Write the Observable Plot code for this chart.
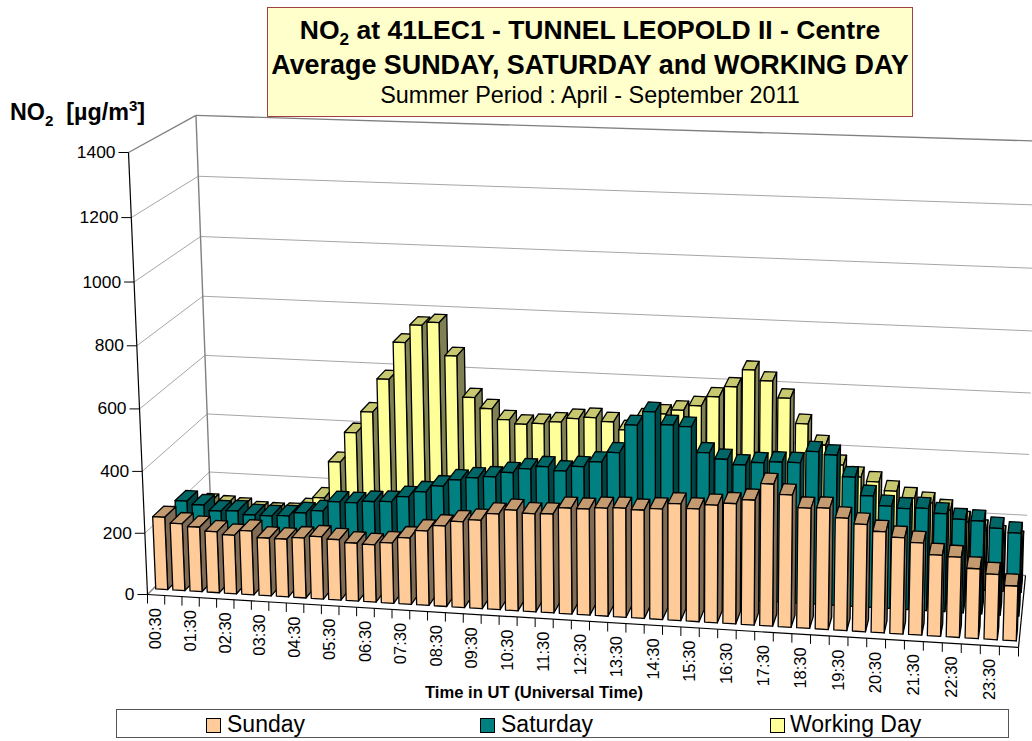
<!DOCTYPE html>
<html><head><meta charset="utf-8">
<script src="https://cdn.jsdelivr.net/npm/d3@7"></script>
<script src="https://cdn.jsdelivr.net/npm/@observablehq/plot@0.6"></script>
<style>
html,body{margin:0;padding:0;background:#fff;overflow:hidden;width:1032px;height:741px;font-family:"Liberation Sans",Arial,sans-serif;color:#000}
#chart{position:absolute;left:0;top:0}
#title{position:absolute;left:267px;top:7px;width:646px;height:110px;box-sizing:border-box;background:#ffffcc;border:1px solid #a04040;text-align:center;white-space:nowrap}
#title div{position:absolute;left:0;right:0}
#t1{font-weight:bold;font-size:26.5px;line-height:30px;top:7px}
#t2{font-weight:bold;font-size:26.9px;line-height:30px;top:42px}
#t3{top:74px;font-size:23.4px;line-height:26px}
sub,sup{font-size:65%;line-height:0}
#ylab{position:absolute;left:10px;top:99px;font-weight:bold;font-size:23.3px;white-space:pre}
#xlab{position:absolute;left:334px;width:400px;text-align:center;top:683px;font-weight:bold;font-size:16.6px}
#legend{position:absolute;left:116px;top:709px;width:893px;height:29px;box-sizing:border-box;border:1px solid #555;background:#fff}
.sw{position:absolute;top:8px;width:13px;height:13px;border:1px solid #000}
.lt{position:absolute;top:0;font-size:23px;line-height:29px}
</style></head><body>
<div id="chart"></div>
<div id="title"><div id="t1">NO<sub>2</sub> at 41LEC1 - TUNNEL LEOPOLD II - Centre</div><div id="t2">Average SUNDAY, SATURDAY and WORKING DAY</div><div id="t3">Summer Period : April - September 2011</div></div>
<div id="ylab">NO<sub>2</sub>  [µg/m<sup>3</sup>]</div>
<div id="xlab">Time in UT (Universal Time)</div>
<div id="legend"></div>
<script>
const tickLabels = ["00:30","01:30","02:30","03:30","04:30","05:30","06:30","07:30","08:30","09:30","10:30","11:30","12:30","13:30","14:30","15:30","16:30","17:30","18:30","19:30","20:30","21:30","22:30","23:30"];
const yTicks = [0,200,400,600,800,1000,1200,1400];
const sunday = [237,219,211,199,191,208,188,188,195,202,196,188,186,195,214,240,259,276,284,307,322,314,316,338,338,344,347,344,351,370,357,372,380,394,447,416,378,381,353,337,317,302,289,254,251,218,204,171];
const saturday = [221,211,194,197,187,187,190,203,213,246,246,253,256,275,294,316,339,349,355,372,387,397,386,403,421,454,545,590,551,548,468,450,435,445,450,451,489,481,414,357,328,323,327,313,298,296,276,264];
const workingDay = [143,139,135,125,124,126,145,185,309,410,482,593,717,776,787,680,546,512,478,466,471,479,493,499,488,464,506,522,537,554,586,621,678,645,592,512,446,384,348,335,308,289,276,255,220,195,180,165];
const seriesNames = ["Sunday","Saturday","Working Day"];
const palette = {
  "Sunday":{front:"#ffcc99",top:"#c49a70",side:"#806b55"},
  "Saturday":{front:"#008080",top:"#006666",side:"#004545"},
  "Working Day":{front:"#ffff99",top:"#c8c870",side:"#808055"}
};
const maxValue = 1400, nCat = 48;
// perspective view of the unit box (time, depth, value)
const view = {O:[147,594],U:[1018,647],UV:[1025,575],V:[211,529],W:[128,152],k:-0.035};
const [x0,y0]=view.O,[x1,y1]=view.U,[x2,y2]=view.UV,[x3,y3]=view.V;
const sx=x0-x1+x2-x3, sy=y0-y1+y2-y3, dx1=x1-x2, dx2=x3-x2, dy1=y1-y2, dy2=y3-y2, den=dx1*dy2-dx2*dy1;
const g=(sx*dy2-dx2*sy)/den, h=(dx1*sy-sx*dy1)/den;
const a1=x1-x0+g*x1, a2=x3-x0+h*x3, a3=view.W[0]*(1+view.k)-x0;
const b1=y1-y0+g*y1, b2=y3-y0+h*y3, b3=view.W[1]*(1+view.k)-y0;
function project(u,v,val){const w=val/maxValue,D=1+g*u+h*v+view.k*w;return [(x0+a1*u+a2*v+a3*w)/D,(y0+b1*u+b2*v+b3*w)/D];}

const rows = [["Working Day",workingDay,0.75,0.9167],["Saturday",saturday,0.4167,0.5833],["Sunday",sunday,0.0833,0.25]];
const verts=[];let fid=0;
function face(pts,fill){fid++;for(const p of pts){const [px,py]=project(...p);verts.push({face:fid,px,py,fill});}}
for(const [name,vals,v0,v1] of rows){
  const c=palette[name];
  vals.forEach((val,i)=>{
    const u0=(i+0.15)/nCat,u1=(i+0.85)/nCat;
    face([[u0,v0,val],[u1,v0,val],[u1,v1,val],[u0,v1,val]],c.top);
    face([[u1,v0,0],[u1,v1,0],[u1,v1,val],[u1,v0,val]],c.side);
    face([[u0,v0,0],[u1,v0,0],[u1,v0,val],[u0,v0,val]],c.front);
  });
}
const seg=(A,B)=>{const p=project(...A),q=project(...B);return {x1:p[0],y1:p[1],x2:q[0],y2:q[1]};};
const grid=yTicks.filter(t=>t>0&&t<1400).flatMap(t=>[seg([0,0,t],[0,1,t]),seg([0,1,t],[1,1,t])]);
const frame=[seg([0,0,1400],[0,1,1400]),seg([0,1,1400],[1,1,1400]),seg([0,1,0],[0,1,1400]),seg([0,0,0],[0,1,0]),seg([0,1,0],[1,1,0])];
const axisLines=[seg([0,0,0],[0,0,1400]),seg([0,0,0],[1,0,0]),seg([1,0,0],[1,1,0])];
const yTickRows=yTicks.map(t=>{const p=project(0,0,t);return {t,x:p[0],y:p[1]};});
const xTickRows=d3.range(nCat+1).map(i=>{const p=project(i/nCat,0,0);return {x:p[0],y:p[1]};});
const xLabelRows=tickLabels.map((s,k)=>{const p=project((2*k+0.5)/nCat,0,0);return {s,x:p[0],y:p[1]};});
const FF='"Liberation Sans",Arial,sans-serif';
const plot=Plot.plot({
  width:1032,height:741,margin:0,
  x:{domain:[0,1032],range:[0,1032],axis:null},
  y:{domain:[0,741],range:[0,741],axis:null},
  color:{type:"identity"},
  marks:[
    Plot.link(grid,{x1:"x1",y1:"y1",x2:"x2",y2:"y2",stroke:"#a6a6a6",strokeWidth:1}),
    Plot.link(frame,{x1:"x1",y1:"y1",x2:"x2",y2:"y2",stroke:"#808080",strokeWidth:1.4}),
    Plot.link(axisLines,{x1:"x1",y1:"y1",x2:"x2",y2:"y2",stroke:"#000",strokeWidth:1.2}),
    Plot.link(yTickRows,{x1:d=>d.x-10,x2:"x",y1:"y",y2:"y",stroke:"#000",strokeWidth:1}),
    Plot.link(xTickRows,{x1:"x",x2:"x",y1:"y",y2:d=>d.y+9,stroke:"#000",strokeWidth:1}),
    Plot.line(verts,{x:"px",y:"py",z:"face",fill:"fill",stroke:"#000",strokeWidth:1.3,curve:"linear-closed",strokeLinejoin:"round"}),
    Plot.text(yTickRows,{x:d=>d.x-13,y:"y",text:d=>String(d.t),textAnchor:"end",fontSize:17.4,fontFamily:FF,fill:"#000"}),
    Plot.text(xLabelRows,{x:"x",y:d=>d.y+13,text:"s",rotate:-90,textAnchor:"end",fontSize:16.5,fontFamily:FF,fill:"#000"})
  ]
});
document.getElementById("chart").append(plot);
const legend=document.getElementById("legend");
const pos=[[89,110],[363,384],[653,673]];
seriesNames.forEach((n,i)=>{
  const s=document.createElement("div");s.className="sw";s.style.left=pos[i][0]+"px";s.style.background=palette[n].front;legend.append(s);
  const t=document.createElement("div");t.className="lt";t.style.left=pos[i][1]+"px";t.textContent=n;legend.append(t);
});
</script></body></html>
